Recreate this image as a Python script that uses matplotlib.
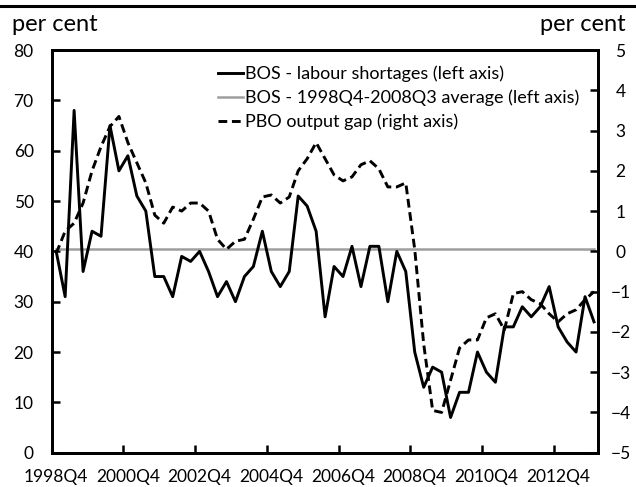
import numpy as np
import pandas as pd
import matplotlib
matplotlib.use("Agg")
import matplotlib.pyplot as plt
from matplotlib.lines import Line2D

# ---------------------------------
# DATA
# ---------------------------------

quarters = [str(p) for p in pd.period_range("1998Q4", "2013Q4", freq="Q")]

# BOS - labour shortages (left axis, per cent)
bos_shortages = [40, 31, 68, 36, 44, 43, 65, 56, 59, 51,
                 48, 35, 35, 31, 39, 38, 40, 36, 31, 34,
                 30, 35, 37, 44, 36, 33, 36, 51, 49, 44,
                 27, 37, 35, 41, 33, 41, 41, 30, 40, 36,
                 20, 13, 17, 16, 7, 12, 12, 20, 16, 14,
                 25, 25, 29, 27, 29, 33, 25, 22, 20, 31,
                 26]

# BOS - 1998Q4-2008Q3 average (left axis)
bos_average = 40.4

# PBO output gap (right axis, per cent)
pbo_gap = [-0.05, 0.5, 0.7, 1.2, 2.0, 2.6, 3.1, 3.35, 2.7, 2.2,
           1.7, 0.9, 0.7, 1.1, 1.0, 1.2, 1.2, 1.0, 0.3, 0.05,
           0.25, 0.3, 0.8, 1.35, 1.4, 1.2, 1.35, 2.0, 2.3, 2.7,
           2.3, 1.9, 1.75, 1.85, 2.15, 2.25, 2.05, 1.6, 1.6, 1.7,
           0.05, -2.3, -3.95, -4.0, -3.2, -2.4, -2.2, -2.2, -1.65, -1.55,
           -1.95, -1.05, -1.0, -1.2, -1.3, -1.55, -1.75, -1.55, -1.45, -1.2,
           -1.0]

tick_labels = ["1998Q4", "2000Q4", "2002Q4", "2004Q4",
               "2006Q4", "2008Q4", "2010Q4", "2012Q4"]

labels = ["BOS - labour shortages (left axis)",
          "BOS - 1998Q4-2008Q3 average (left axis)",
          "PBO output gap (right axis)"]

# ---------------------------------
# STYLE
# ---------------------------------

plt.rcParams["font.family"] = ["Lato", "DejaVu Sans"]
plt.rcParams["font.size"] = 12.5
plt.rcParams["text.color"] = "black"

x = np.arange(len(quarters))

fig = plt.figure(figsize=(6.36, 4.87), dpi=100)
ax = fig.add_axes([0.0813, 0.0704, 0.8597, 0.8269])

# ---------------------------------
# LINES
# ---------------------------------

ax.plot(x, [bos_average] * len(x), color="#9e9e9e", lw=1.8)
ax.plot(x, bos_shortages, color="black", lw=2.1)

ax.set_xlim(-0.5, len(x) - 0.5)
ax.set_ylim(0, 80)
ax.set_yticks(np.arange(0, 81, 10))

# tick marks between categories (major), labels at category centres (minor)
label_pos = [quarters.index(q) for q in tick_labels]
ax.set_xticks(np.arange(7.5, len(x) - 1, 8))
ax.set_xticklabels([""] * 7)
ax.set_xticks(label_pos, minor=True)
ax.set_xticklabels(tick_labels, minor=True)
ax.tick_params(axis="x", which="major", direction="in", length=5.5, width=1.8,
               color="black", bottom=True)
ax.tick_params(axis="x", which="minor", length=0, pad=12, labelsize=12.5)
ax.tick_params(axis="y", direction="in", length=5.5, width=1.8, pad=13, labelsize=12.5)

ax2 = ax.twinx()
ax2.plot(x, pbo_gap, color="black", lw=2.1, dashes=(3, 1.6))
ax2.set_ylim(-5, 5)
ax2.set_yticks(np.arange(-5, 6, 1))
ax2.tick_params(axis="y", direction="in", length=5.5, width=1.8, pad=15.8, labelsize=12.5)
for t in ax2.get_yticklabels():
    t.set_horizontalalignment("center")

for a in (ax, ax2):
    for s in a.spines.values():
        s.set_linewidth(2.0)

# ---------------------------------
# LEGEND + TEXT
# ---------------------------------

handles = [Line2D([], [], color="black", lw=2.1),
           Line2D([], [], color="#9e9e9e", lw=1.8),
           Line2D([], [], color="black", lw=2.1, dashes=(3, 1.6))]
ax2.legend(handles, labels, loc="upper left", bbox_to_anchor=(0.3428, 0.866),
           bbox_transform=fig.transFigure, frameon=False, borderpad=0,
           handlelength=1.4, handletextpad=0.1, labelspacing=0.42,
           fontsize=13, borderaxespad=0)

fig.text(0.019, 0.95, "per cent", fontsize=17, va="center", ha="left")
fig.text(0.983, 0.95, "per cent", fontsize=17, va="center", ha="right")
fig.add_artist(Line2D([0, 1], [0.988, 0.988], color="black", lw=2.2,
                      transform=fig.transFigure))

fig.savefig("out.png", dpi=100)
